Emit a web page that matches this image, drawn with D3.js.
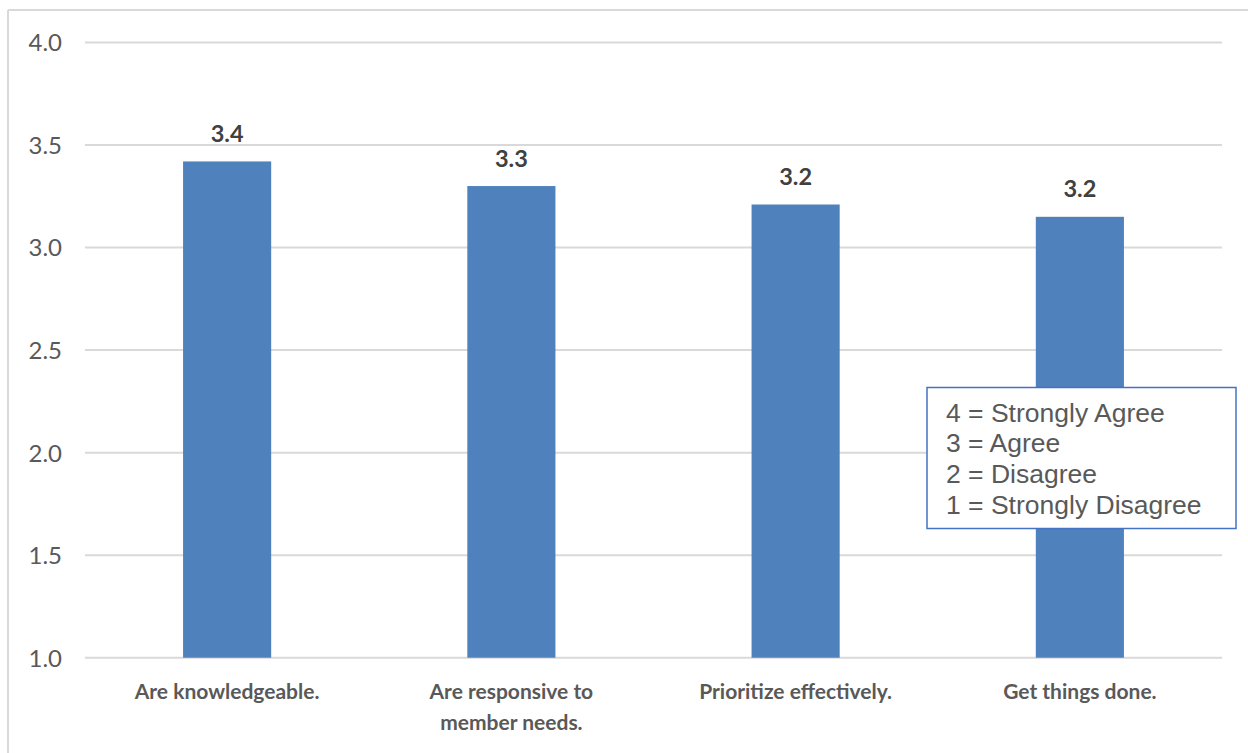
<!DOCTYPE html>
<html><head><meta charset="utf-8">
<script src="https://cdn.jsdelivr.net/npm/d3@7"></script>
<style>body{margin:0;background:#fff;}svg{display:block;}</style>
</head><body>
<script>
const categories = ["Are knowledgeable.", "Are responsive to|member needs.", "Prioritize effectively.", "Get things done."];
const values = [3.42, 3.30, 3.21, 3.15];
const valueLabels = ["3.4", "3.3", "3.2", "3.2"];
const yTicks = [1.0, 1.5, 2.0, 2.5, 3.0, 3.5, 4.0];
const legendLines = ["4 = Strongly Agree", "3 = Agree", "2 = Disagree", "1 = Strongly Disagree"];

const W = 1248, H = 753;
const svg = d3.select("body").append("svg").attr("width", W).attr("height", H);

// outer frame
svg.append("line").attr("x1", 8).attr("x2", W).attr("y1", 10).attr("y2", 10).attr("stroke", "#d9d9d9").attr("stroke-width", 2);
svg.append("line").attr("x1", 8).attr("x2", 8).attr("y1", 10).attr("y2", H).attr("stroke", "#d9d9d9").attr("stroke-width", 2);

const x = d3.scaleBand().domain(categories).range([85, 1222]).paddingInner(0.69).paddingOuter(0.345);
const y = d3.scaleLinear().domain([1, 4]).range([657.7, 42.5]);

// grid
svg.append("g").selectAll("line").data(yTicks).join("line")
  .attr("x1", 85).attr("x2", 1222)
  .attr("y1", d => y(d)).attr("y2", d => y(d))
  .attr("stroke", "#d9d9d9").attr("stroke-width", 2);

// y axis
const yAxis = d3.axisLeft(y).tickValues(yTicks).tickFormat(d3.format(".1f")).tickSize(0).tickPadding(0);
const yg = svg.append("g").attr("transform", "translate(62,0)").call(yAxis);
yg.select(".domain").remove();
yg.selectAll("text").attr("font-family", "Lato, sans-serif").attr("font-size", 24).attr("fill", "#595959").attr("dy", "0.35em");

// bars
svg.append("g").selectAll("rect").data(values).join("rect")
  .attr("x", (d, i) => x(categories[i]))
  .attr("width", x.bandwidth())
  .attr("y", d => y(d))
  .attr("height", d => y(1) - y(d))
  .attr("fill", "#4f81bd");

// value labels
svg.append("g").selectAll("text").data(values).join("text")
  .attr("x", (d, i) => x(categories[i]) + x.bandwidth() / 2)
  .attr("y", d => y(d) - 19.5)
  .attr("text-anchor", "middle")
  .attr("font-family", "Lato, sans-serif").attr("font-weight", "bold").attr("font-size", 23.5)
  .attr("fill", "#404040")
  .text((d, i) => valueLabels[i]);

// x axis labels
const xAxis = d3.axisBottom(x).tickSize(0).tickFormat(() => "");
const xg = svg.append("g").attr("transform", `translate(0,${y(1)})`).call(xAxis);
xg.select(".domain").remove();
xg.selectAll(".tick").each(function(d) {
  const t = d3.select(this).append("text")
    .attr("text-anchor", "middle")
    .attr("font-family", "Lato, sans-serif").attr("font-weight", "bold").attr("font-size", 21)
    .attr("fill", "#595959");
  d.split("|").forEach((s, j) => {
    t.append("tspan").attr("x", 0).attr("y", 41 + j * 31).text(s);
  });
});

// legend box
const lg = svg.append("g");
lg.append("rect").attr("x", 927).attr("y", 387.5).attr("width", 309).attr("height", 141)
  .attr("fill", "#fff").attr("stroke", "#4472c4").attr("stroke-width", 1.5);
lg.selectAll("text").data(legendLines).join("text")
  .attr("x", 946).attr("y", (d, i) => 421.5 + i * 30.8)
  .attr("font-family", "Liberation Sans, Arial, sans-serif").attr("font-size", 26.5)
  .attr("fill", "#595959")
  .text(d => d);
</script>
</body></html>
